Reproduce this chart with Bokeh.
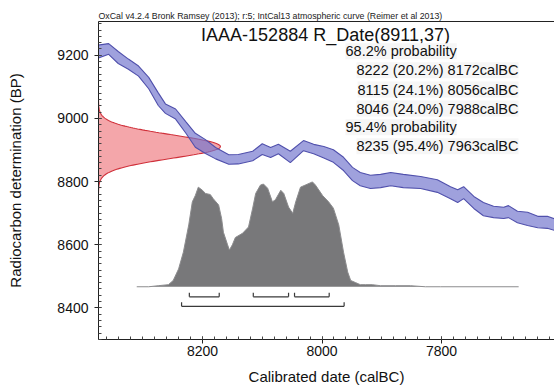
import numpy as np
from bokeh.plotting import figure
from bokeh.models import Range1d, SingleIntervalTicker, LinearAxis, FixedTicker, Label
from bokeh.embed import file_html
from bokeh.resources import INLINE

# --- Radiocarbon measurement -------------------------------------------------
sample_name = "IAAA-152884"
r_date_bp = 8911
r_date_err = 37

# --- IntCal13 atmospheric curve (cal BC, BP, 1 sigma) -------------------------
curve_calbc = [8376, 8357, 8341, 8324, 8307, 8290, 8274, 8262, 8245, 8228,
               8212, 8195, 8178, 8156, 8140, 8116, 8100, 8086, 8073, 8053,
               8031, 8014, 7997, 7981, 7964, 7949, 7936, 7919, 7902, 7885,
               7864, 7835, 7807, 7785, 7773, 7763, 7746, 7730, 7713, 7696,
               7688, 7673, 7656, 7639, 7623, 7605]
curve_bp = [9211, 9220, 9193, 9172, 9150, 9112, 9061, 9031, 9014, 8972,
            8931, 8911, 8890, 8870, 8871, 8881, 8903, 8892, 8903, 8878,
            8914, 8903, 8893, 8881, 8856, 8824, 8808, 8799, 8802, 8808,
            8802, 8797, 8786, 8765, 8754, 8765, 8734, 8713, 8704, 8701,
            8705, 8688, 8682, 8672, 8671, 8660]
curve_sigma = [21, 17, 19, 16, 16, 18, 20, 15, 16, 18,
               22, 22, 18, 15, 15, 15, 17, 16, 15, 18,
               16, 15, 18, 20, 21, 21, 21, 21, 21, 21,
               21, 19, 20, 19, 20, 19, 19, 21, 18, 18,
               19, 18, 21, 18, 19, 18]

# --- Calibrated probability distribution (relative) ---------------------------
post_calbc = [8310, 8290, 8274, 8257, 8249, 8240, 8232, 8223, 8217, 8212,
              8207, 8200, 8195, 8187, 8182, 8173, 8168, 8165, 8158, 8155,
              8150, 8145, 8133, 8123, 8116, 8111, 8103, 8098, 8091, 8083,
              8078, 8069, 8064, 8056, 8049, 8044, 8036, 8028, 8016, 8011,
              7999, 7989, 7981, 7972, 7964, 7957, 7952, 7944, 7936, 7927,
              7916, 7902, 7877, 7852, 7827, 7802, 7671]
post_prob = [0.00, 0.00, 0.01, 0.02, 0.06, 0.17, 0.33, 0.59, 0.81, 0.87,
             0.95, 0.92, 0.89, 0.88, 0.84, 0.78, 0.65, 0.52, 0.40, 0.35,
             0.40, 0.47, 0.51, 0.57, 0.75, 0.89, 0.97, 0.98, 0.94, 0.81,
             0.83, 0.92, 0.89, 0.76, 0.70, 0.81, 0.95, 0.97, 1.00, 0.97,
             0.87, 0.81, 0.75, 0.59, 0.33, 0.14, 0.06, 0.04, 0.02, 0.02,
             0.02, 0.01, 0.01, 0.01, 0.00, 0.00, 0.00]

# --- Highest probability ranges (cal BC) --------------------------------------
range68_from = [8222, 8115, 8046]
range68_to = [8172, 8056, 7988]
range68_pct = ["20.2%", "24.1%", "24.0%"]
range95_from = [8235]
range95_to = [7963]
range95_pct = ["95.4%"]

header = ("OxCal v4.2.4 Bronk Ramsey (2013); r:5; "
          "IntCal13 atmospheric curve (Reimer et al 2013)")

FONT = "Liberation Sans"
X_START, X_END = 8374, 7611
Y_START, Y_END = 8300, 9307

p = figure(width=554, height=387, output_backend="svg", toolbar_location=None,
           x_range=Range1d(X_START, X_END), y_range=Range1d(Y_START, Y_END),
           min_border_left=98, min_border_right=0, min_border_top=21,
           min_border_bottom=47,
           x_axis_label="Calibrated date (calBC)",
           y_axis_label="Radiocarbon determination (BP)")
p.grid.visible = False
p.outline_line_color = None

# software / curve credit line above the frame
p.title.text = header
p.title.align = "left"
p.title.text_font = FONT
p.title.text_font_size = "8.8px"
p.title.text_font_style = "normal"
p.title.text_color = "#222222"
p.title.standoff = 2
p.title.offset = 0

for ax in (p.xaxis[0], p.yaxis[0]):
    ax.ticker = SingleIntervalTicker(interval=200, num_minor_ticks=10)
    ax.axis_line_color = "#222222"
    ax.major_tick_line_color = "#222222"
    ax.minor_tick_line_color = "#444444"
    ax.major_tick_in = 3
    ax.major_tick_out = 4
    ax.minor_tick_in = 3
    ax.minor_tick_out = 0
    ax.major_label_text_font = FONT
    ax.major_label_text_font_size = "14px"
    ax.major_label_text_color = "#111111"
    ax.axis_label_text_font = FONT
    ax.axis_label_text_font_size = "15px"
    ax.axis_label_text_font_style = "normal"
    ax.axis_label_text_color = "#111111"
p.xaxis[0].major_label_standoff = 2
p.xaxis[0].axis_label_standoff = 9
p.yaxis[0].major_label_standoff = 6
p.yaxis[0].axis_label_standoff = 30

# plain frame line along the top
top = LinearAxis(ticker=FixedTicker(ticks=[]), major_label_text_font_size="0px",
                 major_tick_in=0, major_tick_out=0, minor_tick_in=0,
                 minor_tick_out=0, major_label_standoff=0,
                 axis_line_color="#222222")
p.add_layout(top, "above")

# R_Date normal distribution hanging from the radiocarbon axis
ry = np.linspace(r_date_bp - 4 * r_date_err, r_date_bp + 4 * r_date_err, 200)
rdens = np.exp(-0.5 * ((ry - r_date_bp) / r_date_err) ** 2)
r_reach = 204
rx = X_START - rdens * r_reach
p.patch(np.concatenate([rx, [X_START, X_START]]),
        np.concatenate([ry, [ry[-1], ry[0]]]),
        fill_color="#ec6a72", fill_alpha=0.6, line_color=None)
p.line(rx, ry, line_color="#d0303a", line_width=1.1)

# calibration curve band
cx = np.array(curve_calbc, dtype=float)
cbp = np.array(curve_bp, dtype=float)
csig = np.array(curve_sigma, dtype=float)
p.patch(np.concatenate([cx, cx[::-1]]),
        np.concatenate([cbp + csig, (cbp - csig)[::-1]]),
        fill_color="#7274cd", fill_alpha=0.68, line_color="#5050ac",
        line_width=1.1)

# calibrated date distribution
post_base = 8467
post_height = 332
px_ = np.array(post_calbc, dtype=float)
py_ = post_base + np.array(post_prob) * post_height
p.varea(x=px_, y1=np.full_like(px_, post_base), y2=py_, fill_color="#78787a")
p.line(px_, py_, line_color="#8c8c8e", line_width=1)

# highest posterior density range brackets
def brackets(starts, ends, level, tick):
    p.segment(x0=starts, y0=[level] * len(starts), x1=ends,
              y1=[level] * len(starts), line_color="#3a3a3a", line_width=1.2)
    p.segment(x0=starts + ends, y0=[level] * (2 * len(starts)),
              x1=starts + ends, y1=[level + tick] * (2 * len(starts)),
              line_color="#3a3a3a", line_width=1.2)

brackets(range68_from, range68_to, 8435, 13)
brackets(range95_from, range95_to, 8405, 13)

# texts (screen units measured from the frame's lower-left corner)
def label(x, y, text, size, align="left", bg=None):
    lab = Label(x=x, y=y, x_units="screen", y_units="screen", text=text,
                text_font=FONT, text_font_size=size, text_align=align,
                text_baseline="middle", text_color="#111111")
    if bg:
        lab.background_fill_color = bg
    p.add_layout(lab)

label(227, 305, f"{sample_name} R_Date({r_date_bp},{r_date_err})", "18px",
      align="center")

rows = [("68.2% probability", "left")]
rows += [(f"{a} ({pc}) {b}calBC", "right")
         for a, b, pc in zip(range68_from, range68_to, range68_pct)]
rows += [("95.4% probability", "left")]
rows += [(f"{a} ({pc}) {b}calBC", "right")
         for a, b, pc in zip(range95_from, range95_to, range95_pct)]
ys = [288.3, 269.3, 250.0, 231.0, 212.3, 193.3]
for (txt, al), yy in zip(rows, ys):
    label(247 if al == "left" else 420, yy, txt, "14.5px", align=al,
          bg="#f6f6f6")

open("out.html", "w").write(file_html(p, INLINE))
